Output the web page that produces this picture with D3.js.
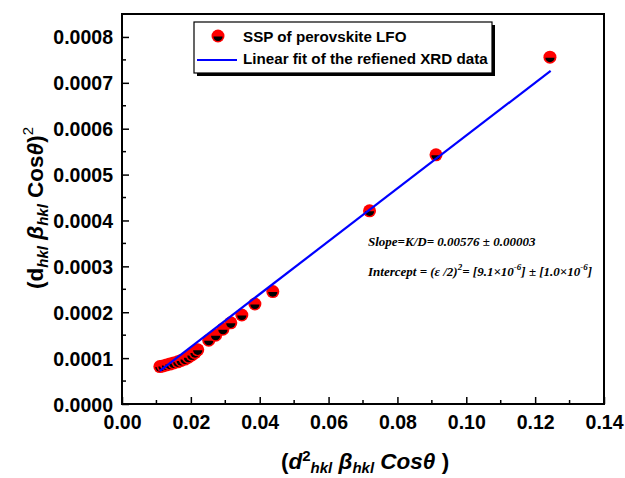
<!DOCTYPE html>
<html>
<head>
<meta charset="utf-8">
<script src="https://cdn.jsdelivr.net/npm/d3@7"></script>
<style>
  html, body { margin: 0; padding: 0; background: #fff; }
  svg { display: block; }
  .tick text { font-family: Arial, "Liberation Sans", sans-serif; font-weight: bold; font-size: 19.5px; fill: #000; }
</style>
</head>
<body>
<svg id="chart" width="625" height="478"></svg>
<script>
// Size-strain plot points: x = d²·β·cosθ, y = (d·β·cosθ)²
const xValues = [0.0110, 0.0119, 0.0129, 0.0139, 0.0150, 0.0162, 0.0172, 0.0183, 0.0193, 0.0203, 0.0212, 0.0220,
                 0.0252, 0.0272, 0.0293, 0.0316, 0.0348, 0.0386, 0.0438, 0.0719, 0.0912, 0.1243];
const yValues = [0.0000815, 0.0000830, 0.0000850, 0.0000870, 0.0000895, 0.0000920, 0.0000950, 0.0000980, 0.000102, 0.000107, 0.000112, 0.000118,
                 0.000139, 0.000150, 0.000163, 0.000177, 0.000194, 0.000218, 0.000245, 0.000421, 0.000543, 0.000756];

// Linear fit parameters
const fitSlope = 0.00576;
const fitIntercept = 9.1e-6;
const fitRange = [0.0110, 0.1245];

const xTicks = [0, 0.02, 0.04, 0.06, 0.08, 0.10, 0.12, 0.14];
const yTicks = [0, 0.0001, 0.0002, 0.0003, 0.0004, 0.0005, 0.0006, 0.0007, 0.0008];

const legendLabels = ["SSP of perovskite LFO", "Linear fit of the refiened XRD data"];

const svg = d3.select("#chart");
const plotL = 122, plotR = 604, plotT = 14, plotB = 404;

const x = d3.scaleLinear().domain([0, 0.14]).range([plotL, plotR]);
const y = d3.scaleLinear().domain([0, 0.00085]).range([plotB, plotT]);

const font = 'Arial, "Liberation Sans", sans-serif';

// Minor ticks
const xMinor = d3.range(0.01, 0.14, 0.02);
const yMinor = d3.range(0.00005, 0.00085, 0.0001);
svg.append("g").selectAll("line").data(xMinor).join("line")
  .attr("x1", d => x(d)).attr("x2", d => x(d))
  .attr("y1", plotB).attr("y2", plotB - 4)
  .attr("stroke", "#000").attr("stroke-width", 1.5);
svg.append("g").selectAll("line").data(yMinor).join("line")
  .attr("x1", plotL).attr("x2", plotL + 4)
  .attr("y1", d => y(d)).attr("y2", d => y(d))
  .attr("stroke", "#000").attr("stroke-width", 1.5);

// Axes with inward ticks
const xAxis = d3.axisBottom(x).tickValues(xTicks).tickFormat(d3.format(".2f"))
  .tickSizeInner(-7).tickSizeOuter(0).tickPadding(11);
const gx = svg.append("g").attr("transform", `translate(0,${plotB})`).call(xAxis);
gx.select(".domain").remove();
gx.selectAll(".tick line").attr("stroke-width", 1.5);

const yAxis = d3.axisLeft(y).tickValues(yTicks).tickFormat(d3.format(".4f"))
  .tickSizeInner(-7).tickSizeOuter(0).tickPadding(9);
const gy = svg.append("g").attr("transform", `translate(${plotL},0)`).call(yAxis);
gy.select(".domain").remove();
gy.selectAll(".tick line").attr("stroke-width", 1.5);
gy.selectAll(".tick text").attr("dy", "0.36em");

// Frame
svg.append("rect").attr("x", plotL).attr("y", plotT)
  .attr("width", plotR - plotL).attr("height", plotB - plotT)
  .attr("fill", "none").attr("stroke", "#000").attr("stroke-width", 2);

// Data markers: red disc with black lower half
function marker(g, cx, cy) {
  g.append("circle").attr("cx", cx).attr("cy", cy).attr("r", 6.5).attr("fill", "#f00");
  const r = 4.6;
  g.append("path")
    .attr("d", `M${cx - r},${cy + 0.5} A${r},${r} 0 0 0 ${cx + r},${cy + 0.5} Z`)
    .attr("fill", "#000");
}
const pts = svg.append("g");
xValues.forEach((xv, i) => marker(pts, x(xv), y(yValues[i])));

// Fit line
svg.append("line")
  .attr("x1", x(fitRange[0])).attr("y1", y(fitSlope * fitRange[0] + fitIntercept))
  .attr("x2", x(fitRange[1])).attr("y2", y(fitSlope * fitRange[1] + fitIntercept))
  .attr("stroke", "#0000ff").attr("stroke-width", 2.2);

// Legend box with drop shadow
const lg = svg.append("g");
lg.append("rect").attr("x", 197).attr("y", 25).attr("width", 298).attr("height", 51).attr("fill", "#000");
lg.append("rect").attr("x", 194).attr("y", 22).attr("width", 298).attr("height", 51)
  .attr("fill", "#fff").attr("stroke", "#000").attr("stroke-width", 1.2);
marker(lg, 218, 36);
lg.append("line").attr("x1", 197).attr("x2", 237).attr("y1", 60).attr("y2", 60)
  .attr("stroke", "#0000ff").attr("stroke-width", 2.2);
lg.selectAll("text").data(legendLabels).join("text")
  .attr("x", 243).attr("y", (d, i) => 42 + i * 22)
  .attr("font-family", font).attr("font-weight", "bold").attr("font-size", 15.2)
  .text(d => d);

// Fit annotations
const ann = svg.append("g")
  .attr("font-family", '"Liberation Serif", "Times New Roman", serif')
  .attr("font-style", "italic").attr("font-weight", "bold").attr("font-size", 13);
ann.append("text").attr("x", 368).attr("y", 246).text("Slope=K/D= 0.00576 \u00B1 0.00003");
const t2 = ann.append("text").attr("x", 368).attr("y", 276);
t2.append("tspan").text("Intercept = (\u03B5 /2)");
t2.append("tspan").attr("dy", -6).attr("font-size", 9).text("2");
t2.append("tspan").attr("dy", 6).text("= [9.1\u00D710");
t2.append("tspan").attr("dy", -6).attr("font-size", 9).text("-6");
t2.append("tspan").attr("dy", 6).text("] \u00B1 [1.0\u00D710");
t2.append("tspan").attr("dy", -6).attr("font-size", 9).text("-6");
t2.append("tspan").attr("dy", 6).text("]");

// Axis titles
const xt = svg.append("text").attr("x", 365).attr("y", 469).attr("text-anchor", "middle")
  .attr("font-family", font).attr("font-weight", "bold").attr("font-size", 22.5);
xt.append("tspan").text("(");
xt.append("tspan").attr("font-style", "italic").text("d");
xt.append("tspan").attr("dy", -8).attr("font-size", 15).text("2");
xt.append("tspan").attr("dy", 12).attr("font-size", 15).attr("font-style", "italic").text("hkl");
xt.append("tspan").attr("dy", -4).attr("font-style", "italic").text(" \u03B2");
xt.append("tspan").attr("dy", 4).attr("font-size", 15).attr("font-style", "italic").text("hkl");
xt.append("tspan").attr("dy", -4).attr("font-style", "italic").text(" Cos\u03B8");
xt.append("tspan").text(" )");

const yt = svg.append("text")
  .attr("transform", "translate(43,208) rotate(-90)").attr("text-anchor", "middle")
  .attr("font-family", font).attr("font-weight", "bold").attr("font-size", 22.5);
yt.append("tspan").text("(d");
yt.append("tspan").attr("dy", 5).attr("font-size", 15).attr("font-style", "italic").text("hkl");
yt.append("tspan").attr("dy", -5).attr("font-style", "italic").text(" \u03B2");
yt.append("tspan").attr("dy", 5).attr("font-size", 15).attr("font-style", "italic").text("hkl");
yt.append("tspan").attr("dy", -5).text(" Cos");
yt.append("tspan").attr("font-style", "italic").text("\u03B8");
yt.append("tspan").text(")");
yt.append("tspan").attr("dy", -10).attr("font-size", 15).attr("font-weight", "normal").text("2");
</script>
</body>
</html>
